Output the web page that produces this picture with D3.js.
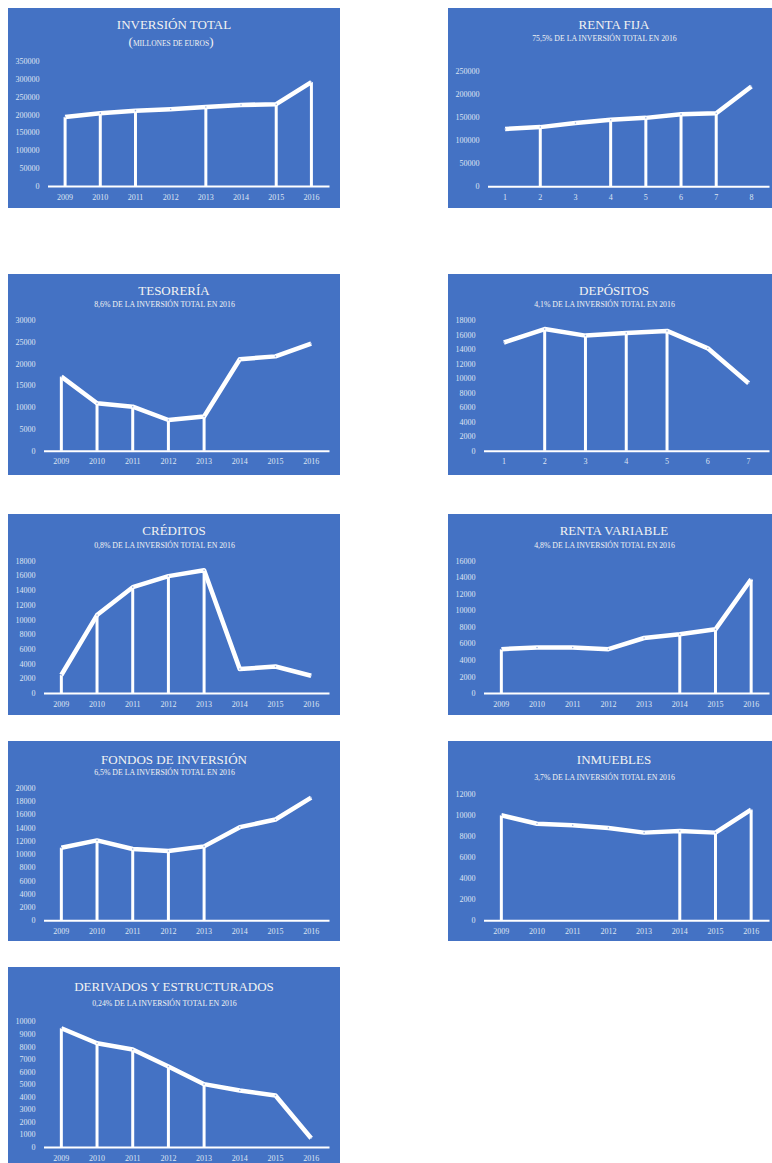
<!DOCTYPE html>
<html>

<head>
    <title>Inversión 2009-2016</title>
    <meta charset="utf-8">
    <script src="https://d3js.org/d3.v7.min.js"></script>
    <style>
        body {
            margin: 0;
            background: #ffffff;
        }
    </style>
</head>

<body>
    <div id="chart"></div>
    <script>
        const BLUE = "#4472C4";
        const FONT = "'Liberation Serif', 'Times New Roman', serif";

        // categories
        const years = ["2009", "2010", "2011", "2012", "2013", "2014", "2015", "2016"];
        const periods8 = ["1", "2", "3", "4", "5", "6", "7", "8"];
        const periods7 = ["1", "2", "3", "4", "5", "6", "7"];

        // titles
        const titles = ["INVERSIÓN TOTAL", "RENTA FIJA", "TESORERÍA", "DEPÓSITOS", "CRÉDITOS",
            "RENTA VARIABLE", "FONDOS DE INVERSIÓN", "INMUEBLES", "DERIVADOS Y ESTRUCTURADOS"];
        const subtitles = ["MILLONES DE EUROS",
            "75,5% DE LA INVERSIÓN TOTAL EN 2016",
            "8,6% DE LA INVERSIÓN TOTAL EN 2016",
            "4,1% DE LA INVERSIÓN TOTAL EN 2016",
            "0,8% DE LA INVERSIÓN TOTAL EN 2016",
            "4,8% DE LA INVERSIÓN TOTAL EN 2016",
            "6,5% DE LA INVERSIÓN TOTAL EN 2016",
            "3,7% DE LA INVERSIÓN TOTAL EN 2016",
            "0,24% DE LA INVERSIÓN TOTAL EN 2016"];

        // series values
        const inversionTotal = [193000, 204000, 211000, 215000, 221000, 227000, 229000, 291000];
        const rentaFija = [124000, 128000, 137000, 144000, 148000, 156000, 158000, 216000];
        const tesoreria = [17000, 10900, 10100, 7050, 7850, 21000, 21650, 24600];
        const depositos = [14900, 16750, 15850, 16200, 16500, 14100, 9300];
        const creditos = [2450, 10600, 14400, 15900, 16700, 3250, 3600, 2350];
        const rentaVariable = [5300, 5500, 5500, 5300, 6650, 7100, 7700, 13750];
        const fondos = [10950, 12050, 10750, 10450, 11150, 14050, 15200, 18500];
        const inmuebles = [10000, 9200, 9050, 8800, 8350, 8500, 8350, 10550];
        const derivados = [9450, 8250, 7750, 6400, 5000, 4500, 4100, 700];

        // which points carry a drop line down to the axis
        const dropsTotal = [1, 1, 1, 0, 1, 0, 1, 1];
        const dropsFija = [0, 1, 0, 1, 1, 1, 1, 0];
        const dropsTesoreria = [1, 1, 1, 1, 1, 0, 0, 0];
        const dropsDepositos = [0, 1, 1, 1, 1, 0, 0];
        const dropsCreditos = [1, 1, 1, 1, 1, 0, 0, 0];
        const dropsVariable = [1, 0, 0, 0, 0, 1, 1, 1];
        const dropsFondos = [1, 1, 1, 1, 1, 0, 0, 0];
        const dropsInmuebles = [1, 0, 0, 0, 0, 1, 1, 1];
        const dropsDerivados = [1, 1, 1, 1, 1, 0, 0, 0];

        // y axis tick labels: [max, step]
        const yTicks = [[350000, 50000], [250000, 50000], [30000, 5000], [18000, 2000], [18000, 2000],
            [16000, 2000], [20000, 2000], [12000, 2000], [10000, 1000]];

        const panels = [
            { cats: years, values: inversionTotal, drops: dropsTotal },
            { cats: periods8, values: rentaFija, drops: dropsFija },
            { cats: years, values: tesoreria, drops: dropsTesoreria },
            { cats: periods7, values: depositos, drops: dropsDepositos },
            { cats: years, values: creditos, drops: dropsCreditos },
            { cats: years, values: rentaVariable, drops: dropsVariable },
            { cats: years, values: fondos, drops: dropsFondos },
            { cats: years, values: inmuebles, drops: dropsInmuebles },
            { cats: years, values: derivados, drops: dropsDerivados },
        ];
        panels.forEach(function (p, i) {
            p.title = titles[i];
            p.sub = subtitles[i];
            p.max = yTicks[i][0];
            p.step = yTicks[i][1];
            p.points = p.cats.map(function (c, k) {
                return { cat: c, value: p.values[k], drop: p.drops[k] === 1 };
            });
        });

        // panel placement (x, y, height) and inner layout (title, subtitle, plot top, plot bottom)
        const layout = [
            { x: 8, y: 8, h: 200, titleY: 16.7, subY: 35, top: 53, bottom: 178 },
            { x: 448, y: 8, h: 200, titleY: 16.7, subY: 30, top: 62.7, bottom: 178.3 },
            { x: 8, y: 274, h: 201, titleY: 16.7, subY: 30, top: 46, bottom: 176.7 },
            { x: 448, y: 274, h: 201, titleY: 16.7, subY: 30, top: 46, bottom: 176.7 },
            { x: 8, y: 514, h: 201, titleY: 16.7, subY: 31, top: 46.7, bottom: 179 },
            { x: 448, y: 514, h: 201, titleY: 16.7, subY: 31, top: 46.7, bottom: 179 },
            { x: 8, y: 741, h: 200, titleY: 18.3, subY: 31.7, top: 46.7, bottom: 179.3 },
            { x: 448, y: 741, h: 200, titleY: 18.3, subY: 36, top: 53.3, bottom: 179.3 },
            { x: 8, y: 967, h: 200, titleY: 19.3, subY: 36.7, top: 54.3, bottom: 180 },
        ];

        const panelWidth = 332;

        const svg = d3.select("#chart").append("svg")
            .attr("width", 772)
            .attr("height", 1163)
            .style("display", "block");

        panels.forEach(function (p, i) {
            const L = layout[i];
            const g = svg.append("g")
                .attr("transform", "translate(" + L.x + "," + L.y + ")");

            g.append("rect")
                .attr("width", panelWidth)
                .attr("height", L.h)
                .attr("fill", BLUE);

            // Title
            g.append("text")
                .attr("x", 166)
                .attr("y", L.titleY + 4.4)
                .attr("text-anchor", "middle")
                .style("font-family", FONT)
                .style("font-size", "13px")
                .attr("fill", "#f2f2f2")
                .text(p.title);

            // Subtitle
            if (i === 0) {
                const st = g.append("text")
                    .attr("x", 163)
                    .attr("y", L.subY + 3)
                    .attr("text-anchor", "middle")
                    .style("font-family", FONT)
                    .attr("fill", "#f2f2f2");
                st.append("tspan").style("font-size", "13px").text("(");
                st.append("tspan").style("font-size", "7.5px").text(p.sub);
                st.append("tspan").style("font-size", "13px").text(")");
            } else {
                g.append("text")
                    .attr("x", 156.5)
                    .attr("y", L.subY + 2.7)
                    .attr("text-anchor", "middle")
                    .style("font-family", FONT)
                    .style("font-size", "7.8px")
                    .attr("fill", "#f2f2f2")
                    .text(p.sub);
            }

            const left = String(p.max).length > 5 ? 39.5 : 35.5;

            const x = d3.scaleBand().domain(p.cats).range([left, 321]);
            const y = d3.scaleLinear().domain([0, p.max]).range([L.bottom, L.top]);
            const cx = function (d) { return x(d.cat) + x.bandwidth() / 2; };
            const cy = function (d) { return y(d.value); };

            // Y axis
            g.append("g")
                .attr("class", "yaxis")
                .attr("transform", "translate(" + left + ",0)")
                .call(d3.axisLeft(y)
                    .tickValues(d3.range(0, p.max + 1, p.step))
                    .tickFormat(d3.format("d"))
                    .tickSize(0)
                    .tickPadding(8))
                .call(function (a) { a.select(".domain").remove(); });

            // Drop lines
            g.selectAll(".drop")
                .data(p.points.filter(function (d) { return d.drop; }))
                .enter()
                .append("line")
                .attr("class", "drop")
                .attr("x1", cx)
                .attr("x2", cx)
                .attr("y1", cy)
                .attr("y2", y(0))
                .attr("stroke", "#ffffff")
                .attr("stroke-width", 3);

            // X axis
            g.append("g")
                .attr("class", "xaxis")
                .attr("transform", "translate(0," + L.bottom + ")")
                .call(d3.axisBottom(x).tickSize(0).tickPadding(8))
                .call(function (a) {
                    a.select(".domain")
                        .attr("stroke", "#ffffff")
                        .attr("stroke-width", 2);
                });

            g.selectAll(".yaxis text, .xaxis text")
                .style("font-family", FONT)
                .style("font-size", "8px")
                .attr("fill", "#dfe5f2");

            // Line
            const line = d3.line().x(cx).y(cy);

            g.append("path")
                .datum(p.points)
                .attr("d", line)
                .attr("fill", "none")
                .attr("stroke", "#ffffff")
                .attr("stroke-width", 4.5)
                .attr("stroke-linejoin", "round");

            // tiny markers
            g.selectAll(".dot")
                .data(p.points)
                .enter()
                .append("circle")
                .attr("class", "dot")
                .attr("cx", cx)
                .attr("cy", cy)
                .attr("r", 0.8)
                .attr("fill", "#9db3e0");
        });
    </script>
</body>

</html>
